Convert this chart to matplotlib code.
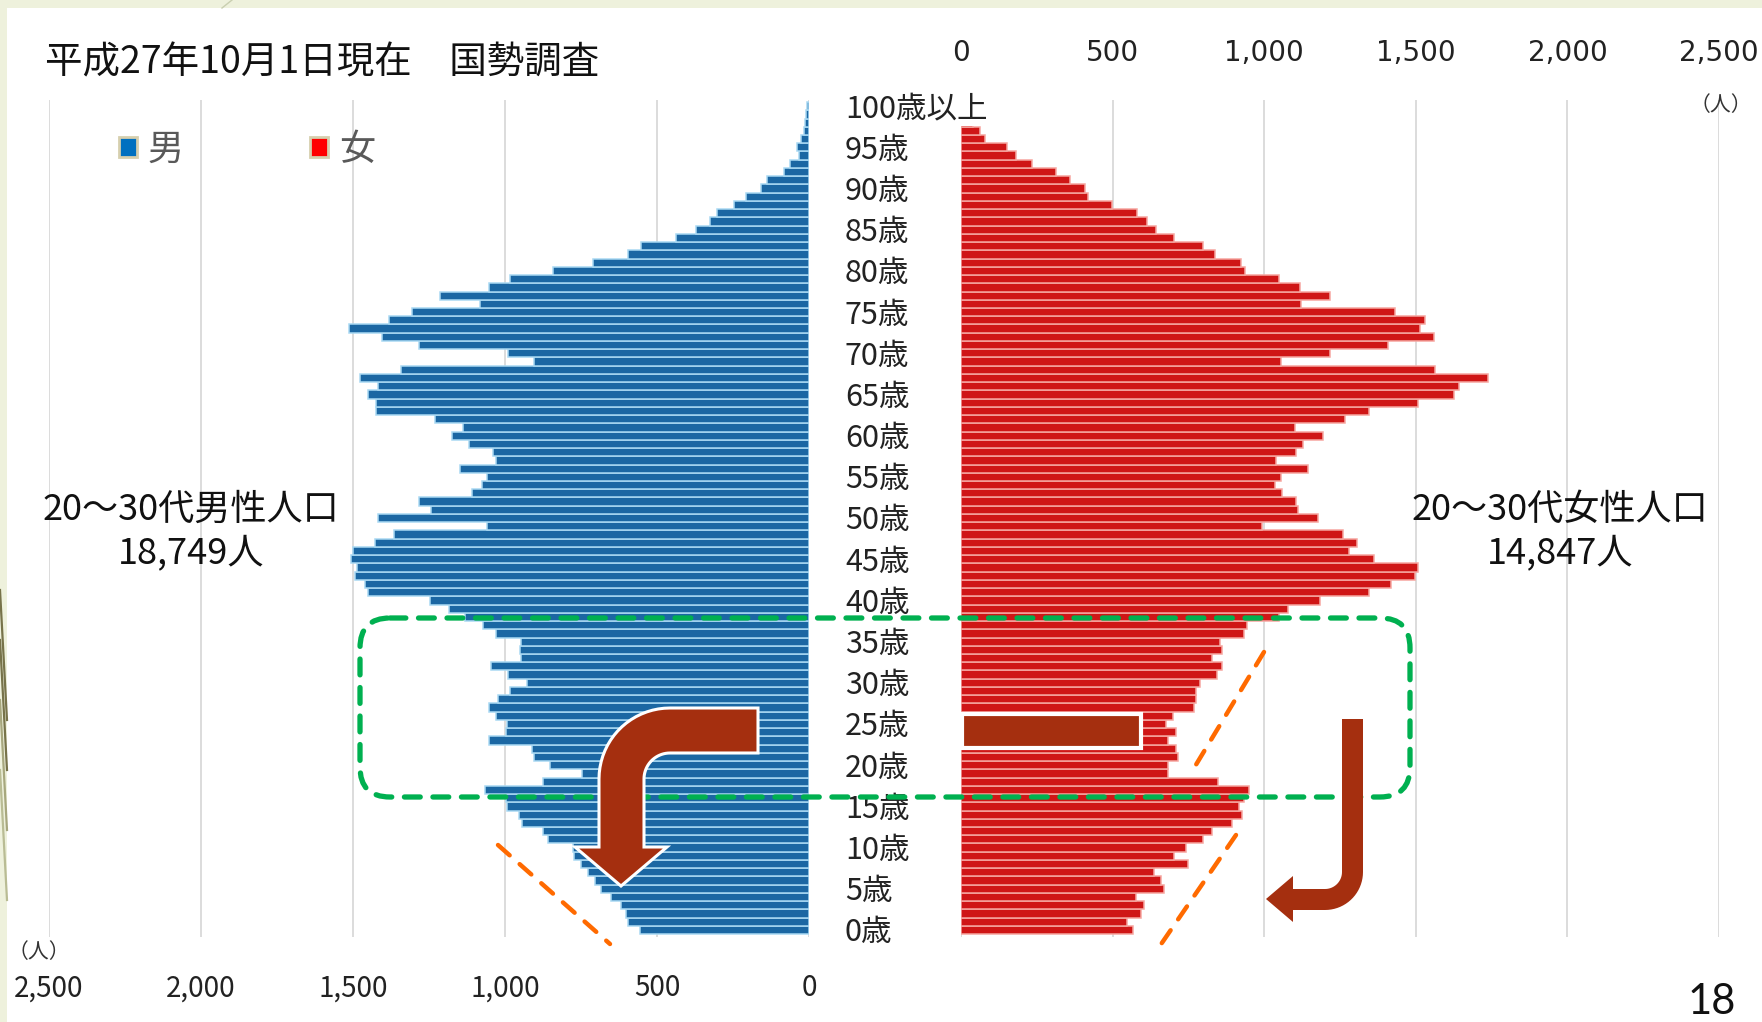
import numpy as np
import matplotlib
matplotlib.use("Agg")
import matplotlib.pyplot as plt
from matplotlib.path import Path
from matplotlib.patches import PathPatch, FancyBboxPatch, Rectangle, Patch
from matplotlib.transforms import blended_transform_factory

JP = ["Noto Sans CJK JP", "DejaVu Sans"]

# population by single year of age, 0 .. 100+ (persons)
ages = np.arange(0, 101)
male = [556, 595, 602, 618, 651, 685, 703, 728, 750, 773,
        775, 859, 874, 944, 954, 995, 998, 1067, 874, 746,
        851, 903, 910, 1053, 998, 994, 1031, 1053, 1023, 984,
        928, 991, 1045, 947, 951, 947, 1028, 1072, 1130, 1185,
        1248, 1450, 1461, 1493, 1486, 1505, 1500, 1427, 1365, 1060,
        1417, 1243, 1282, 1108, 1075, 1060, 1148, 1031, 1039, 1119,
        1174, 1138, 1230, 1424, 1424, 1450, 1417, 1478, 1343, 903,
        991, 1282, 1406, 1512, 1383, 1305, 1082, 1214, 1054, 985,
        841, 712, 595, 551, 439, 371, 326, 304, 248, 208,
        159, 137, 81, 63, 34, 41, 25, 15, 12, 10,
        8]
female = [568, 546, 594, 604, 578, 668, 661, 638, 749, 704,
          743, 799, 827, 893, 928, 916, 935, 950, 849, 682,
          682, 716, 710, 682, 710, 676, 698, 767, 776, 776,
          787, 843, 861, 827, 861, 855, 933, 944, 1050, 1078,
          1183, 1346, 1419, 1496, 1507, 1362, 1279, 1305, 1261, 994,
          1177, 1111, 1106, 1060, 1034, 1056, 1145, 1040, 1106, 1128,
          1195, 1100, 1267, 1346, 1507, 1625, 1642, 1738, 1563, 1056,
          1217, 1408, 1559, 1513, 1529, 1430, 1123, 1217, 1117, 1050,
          938, 922, 839, 799, 704, 642, 614, 581, 497, 418,
          408, 358, 312, 235, 183, 151, 78, 63, 40, 25,
          20]

age_ticks = list(range(0, 101, 5))
age_labels = [f"{a}歳" for a in range(0, 100, 5)] + ["100歳以上"]
count_ticks = [0, 500, 1000, 1500, 2000, 2500]
count_labels = ["0", "500", "1,000", "1,500", "2,000", "2,500"]

MALE_C, MALE_EDGE = "#1b67a3", "#a9d9f3"
FEMALE_C, FEMALE_EDGE = "#cf1616", "#f6a6a0"
ARROW_C = "#a52f0f"

W, H = 1762, 1022
fig = plt.figure(figsize=(W / 100, H / 100), dpi=100, facecolor="#eef1dc")


def px_axes(x0, y0, x1, y1, **kw):
    # box given in pixels, y measured from the top edge
    return fig.add_axes([x0 / W, 1 - y1 / H, (x1 - x0) / W, (y1 - y0) / H], **kw)


# slide background
bg = px_axes(0, 0, W, H, zorder=-5)
bg.set_xlim(0, W); bg.set_ylim(H, 0); bg.axis("off")
bg.add_patch(Rectangle((7, 8), W, H, facecolor="white", edgecolor="none"))
bg.plot([222, 232], [8, 0], color="#c9cfb0", lw=1)
for y0, c in ((590, "#77734a"), (640, "#77734a"), (700, "#a7a77e"), (770, "#b9bc94")):
    bg.plot([0, 7], [y0, y0 + 130], color=c, lw=1.6)

# pyramid halves
ax_l = px_axes(49, 100, 809, 937)
ax_r = px_axes(961, 100, 1719, 937)
for ax in (ax_l, ax_r):
    ax.set_facecolor("none")
    ax.set_ylim(-0.5, 101.1)
    ax.set_yticks([])
    for s in ax.spines.values():
        s.set_visible(False)
    ax.grid(axis="x", color="#d9d9d9", lw=1.3)
    ax.set_axisbelow(True)
    ax.set_xticks(count_ticks, count_labels)
    ax.tick_params(axis="x", length=0, labelsize=20, labelcolor="#222222")
    for t in ax.get_xticklabels():
        t.set_family(JP)

ax_l.set_xlim(2500, 0)
ax_r.set_xlim(0, 2500)
ax_l.tick_params(axis="x", pad=26)
ax_r.xaxis.tick_top()
ax_r.tick_params(axis="x", pad=23.5)

ax_l.barh(ages + 0.35, male, height=1.0, color=MALE_C, edgecolor=MALE_EDGE, linewidth=1.1)
ax_r.barh(ages + 0.35, female, height=1.0, color=FEMALE_C, edgecolor=FEMALE_EDGE, linewidth=1.1)

# age labels in the gap between the halves
tr = blended_transform_factory(ax_r.transAxes, ax_r.transData)
for a, lab in zip(age_ticks, age_labels):
    kw = {}
    if a == 100:
        kw["bbox"] = dict(facecolor="white", edgecolor="none", pad=1)
    ax_r.text((845 - 961) / 758, a, lab, transform=tr, ha="left", va="center",
              fontsize=22, family=JP, color="#222222", clip_on=False, zorder=6, **kw)

ax_l.legend(handles=[Patch(facecolor="#0070c0", edgecolor="#d6cfae", lw=2, label="男"),
                     Patch(facecolor="#ff0000", edgecolor="#d6cfae", lw=2, label="女")],
            loc="upper left", bbox_to_anchor=(119 / W, 1 - 132 / H),
            bbox_transform=fig.transFigure, ncol=2, frameon=False,
            prop={"family": JP, "size": 26}, labelcolor="#595959",
            handlelength=0.5, handleheight=0.5, handletextpad=0.3,
            columnspacing=3.5, borderpad=0, borderaxespad=0)

# overlay for titles and call-outs (pixel coordinates)
ov = px_axes(0, 0, W, H, zorder=5)
ov.set_xlim(0, W); ov.set_ylim(H, 0); ov.axis("off")
ov.set_facecolor("none")

ov.text(45, 63, "平成27年10月1日現在　国勢調査", ha="left", va="center",
        fontsize=27, family=JP, color="#111111")
ov.text(1721, 105, "（人）", ha="center", va="center", fontsize=15, family=JP, color="#333333")
ov.text(39, 952, "（人）", ha="center", va="center", fontsize=15, family=JP, color="#333333")

ov.text(191, 510, "20～30代男性人口", ha="center", va="center", fontsize=26, family=JP, color="#111111")
ov.text(191, 553, "18,749人", ha="center", va="center", fontsize=26, family=JP, color="#111111")
ov.text(1560, 510, "20～30代女性人口", ha="center", va="center", fontsize=26, family=JP, color="#111111")
ov.text(1560, 553, "14,847人", ha="center", va="center", fontsize=26, family=JP, color="#111111")
ov.text(1712, 1002, "18", ha="center", va="center", fontsize=30, family=["Lato", "DejaVu Sans"],
        color="#111111")

# dashed frame around the 20-30s band
frame = FancyBboxPatch((360, 618), 1050, 179, boxstyle="round,pad=0,rounding_size=30",
                       fill=False, edgecolor="#00b050", lw=3.8, linestyle=(0, (3.0, 2.4)))
frame.set_capstyle("round")
ov.add_patch(frame)

for xs, ys in (([498, 610], [845, 944]), ([1264, 1191], [652, 773]), ([1236, 1155], [835, 953])):
    ov.plot(xs, ys, color="#ff6a00", lw=3.2, linestyle=(0, (3.5, 3.0)), dash_capstyle="round")


def arc(cx, cy, r, a0, a1, n=20):
    t = np.radians(np.linspace(a0, a1, n))
    return list(zip(cx + r * np.cos(t), cy + r * np.sin(t)))


# bent arrow (left): horizontal bar turning down into an arrowhead
pts = [(758, 708), (670, 708)]
pts += arc(670, 779, 71, 270, 180)
pts += [(599, 847), (575, 847), (621, 886), (667, 847), (644, 847), (644, 779)]
pts += arc(670, 779, 26, 180, 270)
pts += [(758, 753), (758, 708)]
ov.add_patch(PathPatch(Path(pts, closed=True), facecolor=ARROW_C, edgecolor="white", lw=2.2))

# flat bar (middle)
ov.add_patch(Rectangle((962, 714), 179, 34, facecolor=ARROW_C, edgecolor="white", lw=3))

# J arrow (right)
pts = [(1342, 719), (1363, 719), (1363, 872)]
pts += arc(1325, 872, 38, 0, 90)
pts += [(1293, 910), (1293, 922), (1266, 899), (1293, 876), (1293, 889), (1325, 889)]
pts += arc(1325, 872, 17, 90, 0)
pts += [(1342, 719)]
ov.add_patch(PathPatch(Path(pts, closed=True), facecolor=ARROW_C, edgecolor="none"))

fig.savefig("out.png", dpi=100, facecolor=fig.get_facecolor())
